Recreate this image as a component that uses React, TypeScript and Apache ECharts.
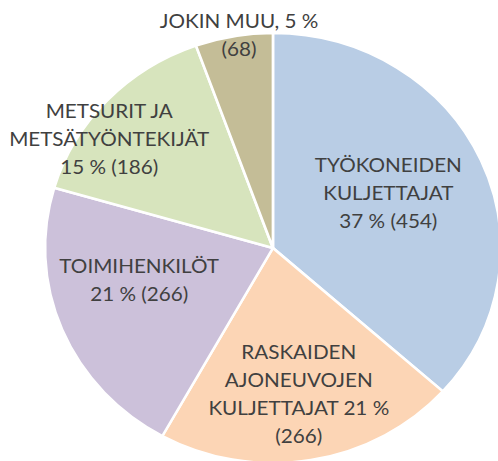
import React, { useEffect, useRef } from "react";
import * as echarts from "echarts";

const categories = [
  "TYÖKONEIDEN KULJETTAJAT",
  "RASKAIDEN AJONEUVOJEN KULJETTAJAT",
  "TOIMIHENKILÖT",
  "METSURIT JA METSÄTYÖNTEKIJÄT",
  "JOKIN MUU",
];
const values = [454, 266, 266, 186, 68];
const labelFormats = [
  "TYÖKONEIDEN\nKULJETTAJAT\n{p} % ({v})",
  "RASKAIDEN\nAJONEUVOJEN\nKULJETTAJAT {p} %\n({v})",
  "TOIMIHENKILÖT\n{p} % ({v})",
  "METSURIT JA\nMETSÄTYÖNTEKIJÄT\n{p} % ({v})",
  "JOKIN MUU, {p} %\n({v})",
];
const colors = ["#B9CDE5", "#FCD5B5", "#CCC1DA", "#D7E4BD", "#C4BD97"];
// label nudges from the default inside position
const labelShift = [
  [8, -11],
  [6, 36],
  [-24, -11],
  [-74, -34],
  [-13, -105],
];
const STRETCH = 1.06;

export default function App() {
  const ref = useRef<HTMLDivElement>(null);
  useEffect(() => {
    const chart = echarts.init(ref.current!, undefined, { renderer: "svg" });
    const total = values.reduce((a, b) => a + b, 0);
    chart.setOption({
      animation: false,
      series: [
        {
          type: "pie",
          center: [257.5, 248],
          radius: [0, 215],
          startAngle: 90,
          clockwise: true,
          avoidLabelOverlap: false,
          itemStyle: { borderColor: "#ffffff", borderWidth: 2.5 },
          label: {
            position: "inside",
            color: "#404040",
            fontFamily: "Lato",
            fontSize: 19.5,
            lineHeight: 28,
            align: "center",
            formatter: (p: any) =>
              labelFormats[p.dataIndex]
                .replace("{p}", String(Math.round((p.value / total) * 100)))
                .replace("{v}", String(p.value)),
          },
          labelLine: { show: false },
          emphasis: { disabled: true },
          labelLayout: (p: any) => ({
            dx: labelShift[p.dataIndex][0],
            dy: labelShift[p.dataIndex][1],
          }),
          data: categories.map((name, i) => ({
            name,
            value: values[i],
            itemStyle: { color: colors[i] },
          })),
        },
      ],
    });
    return () => chart.dispose();
  }, []);
  return (
    <div
      ref={ref}
      style={{
        position: "absolute",
        left: 0,
        top: 0,
        width: 470,
        height: 461,
        transform: `scaleX(${STRETCH})`,
        transformOrigin: "0 0",
      }}
    />
  );
}
